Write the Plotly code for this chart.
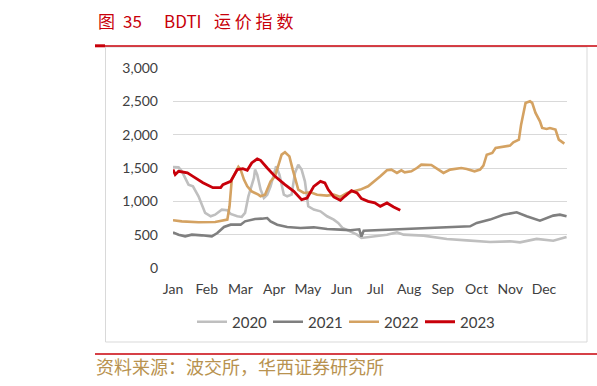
import plotly.graph_objects as go

# ---------------- data (x = day of year, y = BDTI index) ----------------
months = ["Jan", "Feb", "Mar", "Apr", "May", "Jun", "Jul", "Aug", "Sep", "Oct", "Nov", "Dec"]

x2020 = [0, 5, 8, 14, 18, 23, 29, 34, 38, 44, 49, 52, 58, 62, 65, 68, 73, 74, 76, 79, 82, 85, 88, 92, 93, 96,
         100, 103, 107, 110, 113, 116, 119, 122, 127, 133, 139, 145, 149, 153, 160, 166, 170, 184, 193, 202,
         208, 226, 247, 265, 286, 304, 313, 328, 343, 355]
y2020 = [1516, 1510, 1450, 1250, 1225, 1075, 826, 776, 800, 876, 866, 811, 776, 766, 826, 1075, 1350, 1476, 1400,
         1176, 1050, 1100, 1226, 1476, 1526, 1400, 1100, 1075, 1100, 1426, 1550, 1476, 1300, 926, 876, 850, 776,
         726, 676, 600, 550, 500, 450, 475, 500, 535, 500, 485, 436, 415, 390, 400, 385, 436, 410, 466]

x2021 = [0, 5, 11, 17, 26, 35, 40, 46, 52, 61, 65, 74, 80, 85, 88, 94, 103, 115, 127, 139, 151, 160, 168, 170,
         172, 193, 226, 268, 274, 286, 298, 310, 319, 331, 343, 349, 355]
y2021 = [535, 500, 475, 500, 490, 475, 525, 616, 650, 650, 700, 736, 740, 750, 700, 650, 616, 600, 610, 586, 575,
         566, 580, 470, 560, 575, 600, 625, 676, 726, 800, 835, 776, 710, 786, 800, 776]

x2022 = [0, 8, 23, 38, 49, 51, 53, 59, 61, 64, 67, 71, 77, 79, 83, 88, 92, 95, 98, 101, 105, 108, 113, 118, 124,
         130, 139, 145, 151, 157, 163, 169, 176, 182, 187, 193, 197, 202, 206, 209, 215, 220, 224, 233, 239, 244,
         250, 254, 260, 265, 272, 277, 280, 283, 288, 291, 297, 300, 304, 307, 312, 314, 318, 322, 324, 327, 331,
         333, 337, 340, 345, 348, 352, 353]
y2022 = [716, 700, 686, 690, 726, 926, 1326, 1516, 1476, 1326, 1226, 1150, 1100, 1075, 1100, 1300, 1375, 1550,
         1700, 1736, 1675, 1476, 1176, 1126, 1136, 1100, 1086, 1100, 1066, 1126, 1150, 1176, 1226, 1300, 1375,
         1465, 1476, 1426, 1465, 1435, 1450, 1500, 1550, 1546, 1476, 1426, 1476, 1486, 1500, 1486, 1450, 1476,
         1536, 1700, 1726, 1800, 1816, 1816, 1836, 1886, 1926, 2150, 2476, 2500, 2476, 2326, 2200, 2100, 2086,
         2100, 2076, 1926, 1876, 1866]

x2023 = [0, 2, 5, 13, 18, 27, 36, 43, 45, 52, 58, 63, 67, 71, 76, 79, 85, 92, 101, 109, 116, 121, 127, 133, 137,
         140, 145, 151, 155, 161, 166, 170, 176, 182, 187, 193, 199, 205]
y2023 = [1476, 1400, 1450, 1426, 1375, 1280, 1205, 1205, 1250, 1300, 1476, 1490, 1465, 1576, 1636, 1615, 1500,
         1375, 1250, 1150, 1026, 1050, 1225, 1300, 1276, 1176, 1066, 1015, 1075, 1160, 1126, 1040, 1000, 976,
         925, 976, 916, 866]

series = [
    ("2020", x2020, y2020, "#BFBFBF", 2.6),
    ("2021", x2021, y2021, "#7F7F7F", 2.6),
    ("2022", x2022, y2022, "#D4A262", 2.6),
    ("2023", x2023, y2023, "#C8000A", 2.8),
]

# ---------------- layout geometry ----------------
W, H = 597, 386
ML, MR, MT, MB = 173, 30, 68, 118
PW, PH = W - ML - MR, H - MT - MB
MONTH_DAYS = 30.42


def px_x(p):
    return (p - ML) / PW


def px_y(p):
    return (H - MB - p) / PH


fig = go.Figure()
for name, xs, ys, col, w in series:
    fig.add_trace(go.Scatter(x=xs, y=ys, name=name, mode="lines",
                             line=dict(color=col, width=w)))

red = "#C8000A"
shapes = [
    # chart frame
    dict(type="rect", xref="paper", yref="paper", x0=px_x(105.5), x1=px_x(587), y0=px_y(342), y1=px_y(47),
         line=dict(color="#D9D9D9", width=1), fillcolor="rgba(0,0,0,0)", layer="below"),
    # top red rule
    dict(type="line", xref="paper", yref="paper", x0=px_x(95), x1=px_x(597), y0=px_y(46), y1=px_y(46),
         line=dict(color=red, width=1.5)),
    dict(type="line", xref="paper", yref="paper", x0=px_x(95), x1=px_x(105), y0=px_y(45.8), y1=px_y(45.8),
         line=dict(color=red, width=3)),
    # bottom red rule
    dict(type="line", xref="paper", yref="paper", x0=px_x(95), x1=px_x(597), y0=px_y(354), y1=px_y(354),
         line=dict(color=red, width=1.5)),
]

annotations = [
    dict(text="图", x=px_x(96), y=px_y(21), xref="paper", yref="paper", xanchor="left", yanchor="middle",
         showarrow=False, font=dict(family="Noto Sans CJK SC", size=17, color=red)),
    dict(text="35", x=px_x(121), y=px_y(21), xref="paper", yref="paper", xanchor="left", yanchor="middle",
         showarrow=False, font=dict(family="Noto Sans CJK SC", size=17, color=red)),
    dict(text="BDTI", x=px_x(162), y=px_y(21), xref="paper", yref="paper", xanchor="left", yanchor="middle",
         showarrow=False, font=dict(family="Noto Sans CJK SC", size=17, color=red)),
    dict(text="运 价 指 数", x=px_x(212), y=px_y(21), xref="paper", yref="paper", xanchor="left",
         yanchor="middle", showarrow=False, font=dict(family="Noto Sans CJK SC", size=17, color=red)),
    dict(text="资料来源：波交所，华西证券研究所", x=px_x(94), y=px_y(366), xref="paper", yref="paper",
         xanchor="left", yanchor="middle", showarrow=False,
         font=dict(family="Noto Sans CJK SC", size=18, color="#B8924F")),
]

fig.update_layout(
    width=W, height=H,
    margin=dict(l=ML, r=MR, t=MT, b=MB),
    paper_bgcolor="white", plot_bgcolor="white",
    font=dict(family="Lato", size=14, color="#404040"),
    showlegend=True,
    legend=dict(orientation="h", x=px_x(344), xanchor="center", y=px_y(322), yanchor="middle",
                font=dict(family="Lato", size=15, color="#404040"), bgcolor="rgba(0,0,0,0)",
                itemwidth=30, tracegroupgap=0, entrywidth=31, entrywidthmode="pixels"),
    xaxis=dict(range=[0, 355.4], tickmode="array",
               tickvals=[i * MONTH_DAYS for i in range(12)], ticktext=months,
               showgrid=False, zeroline=False, showline=False, ticks="",
               ticklabelstandoff=11, tickfont=dict(family="Lato", size=14, color="#404040")),
    yaxis=dict(range=[0, 3000], tickvals=[0, 500, 1000, 1500, 2000, 2500, 3000], tickformat=",",
               showgrid=True, gridcolor="#D9D9D9", gridwidth=1, zeroline=False, showline=False, ticks="",
               ticklabelstandoff=14, tickfont=dict(family="Lato", size=14, color="#404040")),
    shapes=shapes,
    annotations=annotations,
)

fig.write_html("out.html")
